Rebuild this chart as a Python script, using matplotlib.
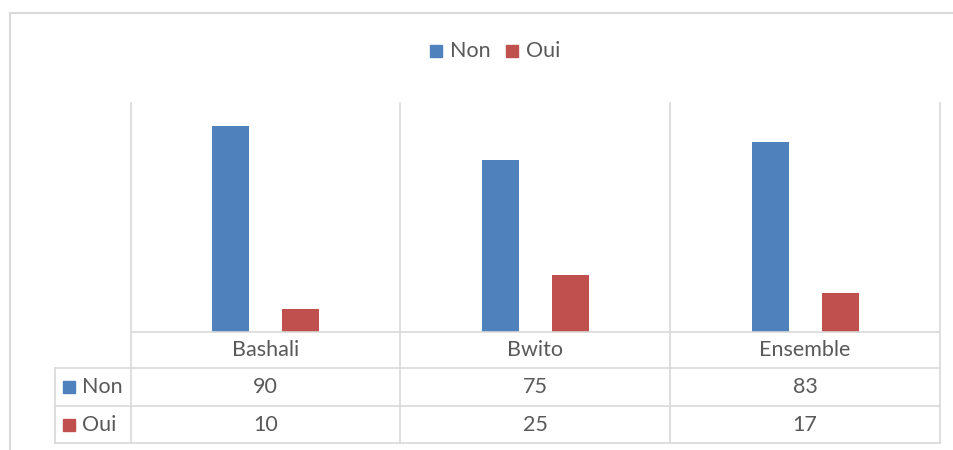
import matplotlib.pyplot as plt
from matplotlib.lines import Line2D
from matplotlib.patches import Rectangle
import numpy as np

categories = ["Bashali", "Bwito", "Ensemble"]
series_names = ["Non", "Oui"]
non_values = [90, 75, 83]
oui_values = [10, 25, 17]

blue = "#4F81BD"
red = "#C0504D"
grid_col = "#D9D9D9"
text_col = "#595959"
plt.rcParams["font.family"] = ["Lato", "DejaVu Sans"]

W, H = 954, 450
fig = plt.figure(figsize=(W / 100, H / 100), dpi=100)


def fx(x):
    return x / W


def fy(y):
    return 1 - y / H


def hline(y, x0, x1, lw=1.2):
    fig.add_artist(Line2D([fx(x0), fx(x1)], [fy(y), fy(y)], color=grid_col, lw=lw))


def vline(x, y0, y1, lw=1.2):
    fig.add_artist(Line2D([fx(x), fx(x)], [fy(y0), fy(y1)], color=grid_col, lw=lw))


# plot area
left, right, top, base = 131, 940, 103, 332
ax = fig.add_axes([fx(left), fy(base), fx(right - left), (base - top) / H])
x = np.arange(len(categories))
width = 0.137
ax.bar(x - 0.13, non_values, width, color=blue)
ax.bar(x + 0.13, oui_values, width, color=red)
ax.set_xlim(-0.5, len(categories) - 0.5)
ax.set_ylim(0, 100)
ax.axis("off")

# outer frame
hline(13, 10, W, lw=1.5)
vline(10, 13, H, lw=1.5)

# grid / data table lines
for xv in [131, 400, 670, 940]:
    vline(xv, top, 443)
vline(55, 368, 443)
hline(332, 131, 940)
for yv in [368, 406, 443]:
    hline(yv, 55, 940)

# category labels and values
centers = [265.5, 535, 805]
fs = 15.5
for cx, cat, nv, ov in zip(centers, categories, non_values, oui_values):
    fig.text(fx(cx), fy(350), cat, ha="center", va="center", fontsize=fs, color=text_col)
    fig.text(fx(cx), fy(387), str(nv), ha="center", va="center", fontsize=fs, color=text_col)
    fig.text(fx(cx), fy(425), str(ov), ha="center", va="center", fontsize=fs, color=text_col)

# row headers with legend keys
for yc, name, col in [(387, series_names[0], blue), (425, series_names[1], red)]:
    fig.add_artist(Rectangle((fx(63), fy(yc + 6)), 12 / W, 12 / H, color=col,
                             transform=fig.transFigure))
    fig.text(fx(82), fy(yc), name, ha="left", va="center", fontsize=fs, color=text_col)

# top legend
for lx, name, col in [(430, series_names[0], blue), (506, series_names[1], red)]:
    fig.add_artist(Rectangle((fx(lx), fy(57)), 12 / W, 12 / H, color=col,
                             transform=fig.transFigure))
    fig.text(fx(lx + 20), fy(51), name, ha="left", va="center", fontsize=fs, color=text_col)

fig.savefig("out.png", dpi=100)
